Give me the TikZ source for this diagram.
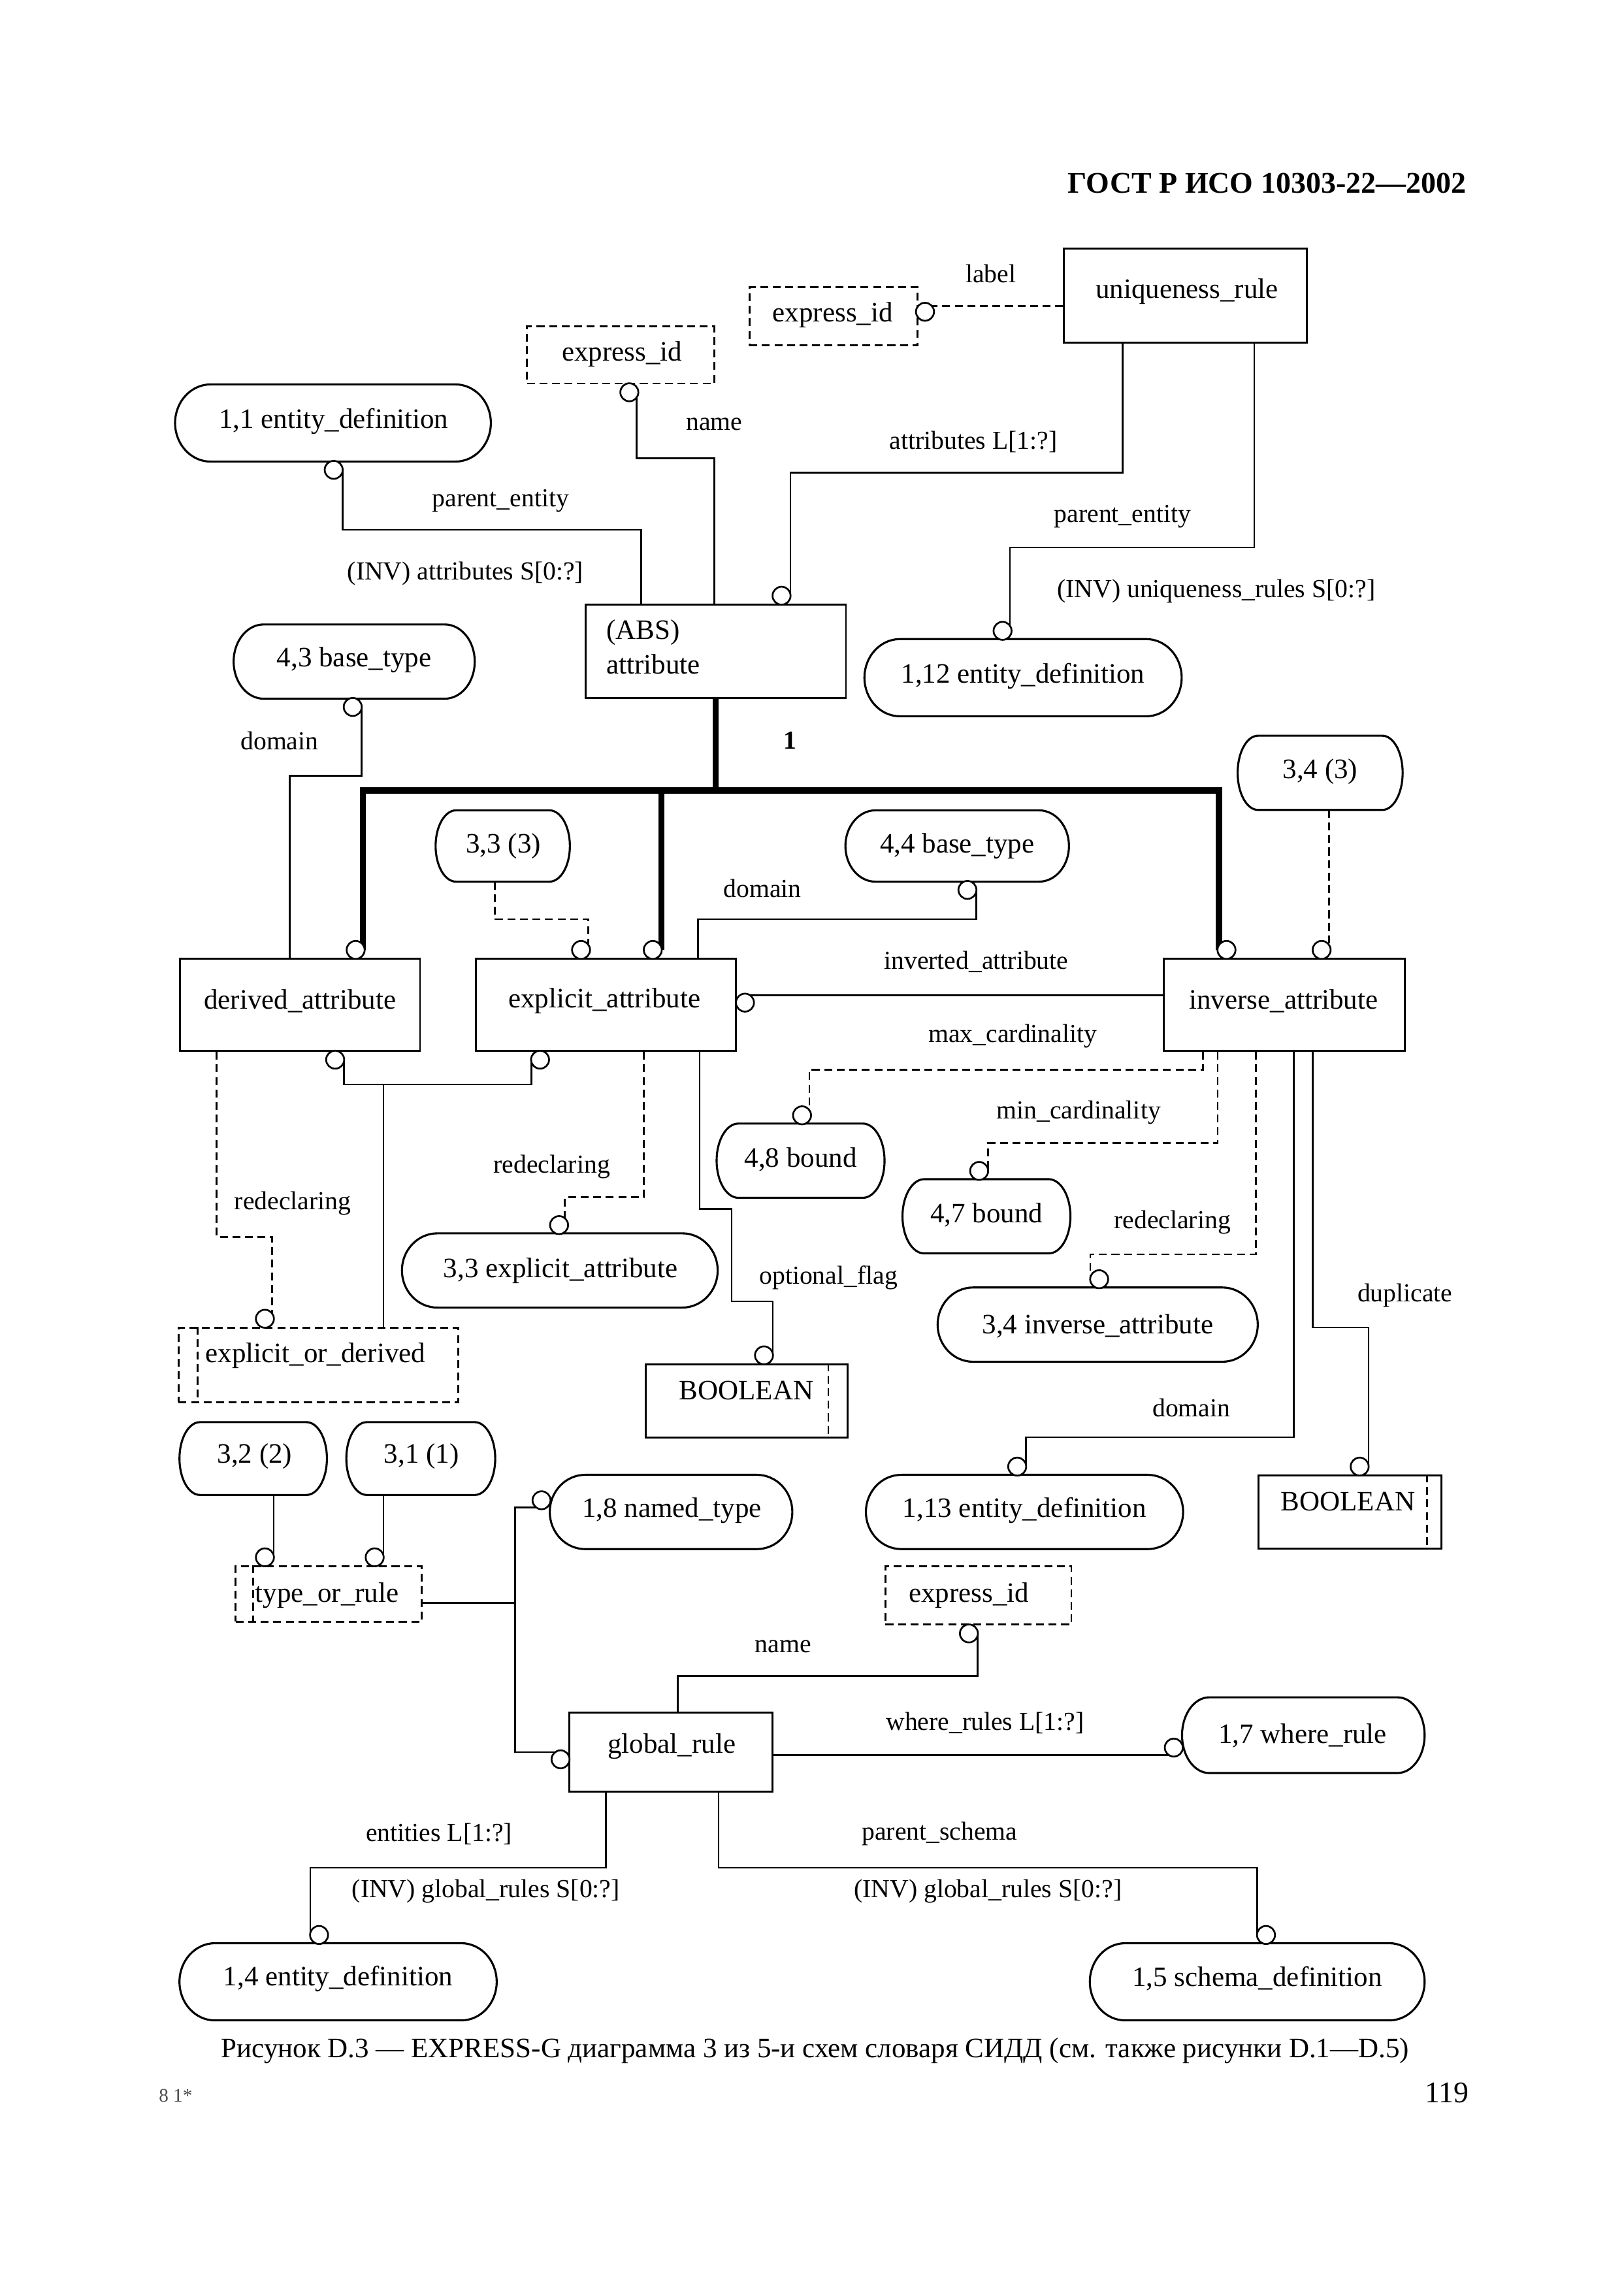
\documentclass[tikz,border=0pt]{standalone}
\usepackage{fontspec}
\setmainfont{Liberation Serif}
\usetikzlibrary{fit,calc}
\pgfdeclarelayer{fg}
\pgfsetlayers{main,fg}
\newcommand\nodefont{\fontsize{10.3}{12}\selectfont}
\newcommand\lblfont{\fontsize{9.5}{11}\selectfont}
\newcommand\ovalpath[2]{%
  \draw[line width=0.75pt] let \p1=(#1.north east), \p2=(#1.south west), \n1={0.5*(\y1-\y2)} in
  (\x2+#2,\y1) -- (\x1-#2,\y1) arc[start angle=90,end angle=-90,x radius=#2,y radius=\n1]
  -- (\x2+#2,\y2) arc[start angle=270,end angle=90,x radius=#2,y radius=\n1] -- cycle;}
\tikzset{
  box/.style={draw, line width=0.7pt, inner sep=0pt},
  dbox/.style={box, dash pattern=on 2.9pt off 1.7pt},
  shp/.style={inner sep=0pt},
  circ/.style={circle, draw, line width=0.65pt, fill=white, minimum size=6.6pt, inner sep=0pt},
  ln/.style={line width=0.6pt},
  dln/.style={line width=0.65pt, dash pattern=on 2.9pt off 1.7pt},
  thk/.style={line width=2.3pt},
  lbl/.style={font=\lblfont, inner sep=0pt},
  txt/.style={font=\nodefont, inner sep=0pt},
}
\begin{document}
\begin{tikzpicture}[x=0.5365pt,y=0.5365pt]
\useasboundingbox[fill=white] (0,0) rectangle (1109.6,-1568.0);

\node[anchor=east, font=\fontsize{11}{13}\selectfont\bfseries, inner sep=0pt] (hdr) at (1002,-125) {ГОСТ Р ИСО 10303-22—2002};

% boxes and ovals
\node[box, fit={(727,-170) (893,-234)}] (uniq) {};
\node[txt] (uniqT) at (811,-199) {uniqueness\_rule};
\node[dbox, fit={(512,-196) (627,-236)}] (exTR) {};
\node[txt] (exTRT) at (569,-215) {express\_id};
\node[dbox, fit={(360,-223) (488,-262)}] (exL) {};
\node[txt] (exLT) at (425,-242) {express\_id};
\node[shp, fit={(120,-263) (335,-315)}] (ed11) {}; \ovalpath{ed11}{13pt}
\node[txt] (ed11T) at (228,-288) {1,1 entity\_definition};
\node[box, fit={(400,-413) (578,-477)}] (attr) {};
\node[txt, anchor=west] (absT) at (414,-432) {(ABS)};
\node[txt, anchor=west] (attrT) at (414,-454) {attribute};
\node[shp, fit={(591,-437) (807,-489)}] (ed112) {}; \ovalpath{ed112}{13pt}
\node[txt] (ed112T) at (699,-462) {1,12 entity\_definition};
\node[shp, fit={(160,-427) (324,-477)}] (bt43) {}; \ovalpath{bt43}{11pt}
\node[txt] (bt43T) at (242,-451) {4,3 base\_type};
\node[shp, fit={(298,-554) (389,-602)}] (pr33) {}; \ovalpath{pr33}{7.5pt}
\node[txt] (pr33T) at (344,-578) {3,3 (3)};
\node[shp, fit={(578,-554) (730,-602)}] (bt44) {}; \ovalpath{bt44}{11pt}
\node[txt] (bt44T) at (654,-578) {4,4 base\_type};
\node[shp, fit={(846,-503) (958,-553)}] (pr34) {}; \ovalpath{pr34}{7.5pt}
\node[txt] (pr34T) at (902,-527) {3,4 (3)};
\node[box, fit={(123,-655) (287,-718)}] (der) {};
\node[txt] (derT) at (205,-684) {derived\_attribute};
\node[box, fit={(325,-655) (503,-718)}] (exp) {};
\node[txt] (expT) at (413,-684) {explicit\_attribute};
\node[box, fit={(795,-655) (960,-718)}] (inv) {};
\node[txt] (invT) at (877,-684) {inverse\_attribute};
\node[shp, fit={(490,-768) (604,-818)}] (b48) {}; \ovalpath{b48}{8pt}
\node[txt] (b48T) at (547,-792) {4,8 bound};
\node[shp, fit={(617,-806) (731,-856)}] (b47) {}; \ovalpath{b47}{8pt}
\node[txt] (b47T) at (674,-830) {4,7 bound};
\node[shp, fit={(275,-843) (490,-893)}] (ea33) {}; \ovalpath{ea33}{13pt}
\node[txt] (ea33T) at (383,-868) {3,3 explicit\_attribute};
\node[shp, fit={(641,-880) (859,-930)}] (ia34) {}; \ovalpath{ia34}{13pt}
\node[txt] (ia34T) at (750,-906) {3,4 inverse\_attribute};
\node[dbox, fit={(122,-907) (313,-958)}] (eod) {};
\draw[dln] (135,0 |- eod.north) -- (135,0 |- eod.south);
\node[txt, anchor=west] (eodT) at (140,-926) {explicit\_or\_derived};
\node[box, fit={(441,-932) (579,-982)}] (boolL) {};
\draw[dln] (566,0 |- boolL.north) -- (566,0 |- boolL.south);
\node[txt] (boolLT) at (510,-950) {BOOLEAN};
\node[shp, fit={(592,-1008) (808,-1058)}] (ed113) {}; \ovalpath{ed113}{13pt}
\node[txt] (ed113T) at (700,-1032) {1,13 entity\_definition};
\node[box, fit={(860,-1008) (985,-1058)}] (boolR) {};
\draw[dln] (975,0 |- boolR.north) -- (975,0 |- boolR.south);
\node[txt] (boolRT) at (921,-1026) {BOOLEAN};
\node[shp, fit={(123,-972) (223,-1021)}] (pr32) {}; \ovalpath{pr32}{7.5pt}
\node[txt] (pr32T) at (174,-995) {3,2 (2)};
\node[shp, fit={(237,-972) (338,-1021)}] (pr31) {}; \ovalpath{pr31}{7.5pt}
\node[txt] (pr31T) at (288,-995) {3,1 (1)};
\node[dbox, fit={(161,-1070) (288,-1108)}] (tor) {};
\draw[dln] (173,0 |- tor.north) -- (173,0 |- tor.south);
\node[txt, anchor=west] (torT) at (174,-1090) {type\_or\_rule};
\node[shp, fit={(376,-1008) (541,-1058)}] (nt18) {}; \ovalpath{nt18}{13pt}
\node[txt] (nt18T) at (459,-1032) {1,8 named\_type};
\node[dbox, fit={(605,-1070) (732,-1110)}] (exB) {};
\node[txt] (exBT) at (662,-1090) {express\_id};
\node[box, fit={(389,-1170) (528,-1224)}] (gr) {};
\node[txt] (grT) at (459,-1193) {global\_rule};
\node[shp, fit={(808,-1160) (973,-1211)}] (wr17) {}; \ovalpath{wr17}{10pt}
\node[txt] (wr17T) at (890,-1186) {1,7 where\_rule};
\node[shp, fit={(123,-1328) (339,-1380)}] (ed14) {}; \ovalpath{ed14}{13pt}
\node[txt] (ed14T) at (231,-1352) {1,4 entity\_definition};
\node[shp, fit={(745,-1328) (973,-1380)}] (sd15) {}; \ovalpath{sd15}{13pt}
\node[txt] (sd15T) at (859,-1352) {1,5 schema\_definition};

% circles
\begin{pgfonlayer}{fg}
\node[circ] (cA) at (632,-213) {};
\node[circ] (cB) at (430,-268) {};
\node[circ] (cC) at (228,-321) {};
\node[circ] (cD) at (534,-407) {};
\node[circ] (cE) at (685,-431) {};
\node[circ] (cF) at (241,-483) {};
\node[circ] (cG) at (243,-649) {};
\node[circ] (cH) at (446,-649) {};
\node[circ] (cI) at (838,-649) {};
\node[circ] (cJ) at (397,-649) {};
\node[circ] (cK) at (661,-608) {};
\node[circ] (cL) at (903,-649) {};
\node[circ] (cM) at (509,-685) {};
\node[circ] (cN) at (229,-724) {};
\node[circ] (cO) at (369,-724) {};
\node[circ] (cP) at (181,-901) {};
\node[circ] (cQ) at (382,-837) {};
\node[circ] (cR) at (522,-926) {};
\node[circ] (cS) at (548,-762) {};
\node[circ] (cT) at (669,-800) {};
\node[circ] (cU) at (751,-874) {};
\node[circ] (cV) at (695,-1002) {};
\node[circ] (cW) at (929,-1002) {};
\node[circ] (cX) at (181,-1064) {};
\node[circ] (cY) at (256,-1064) {};
\node[circ] (cZ) at (370,-1025) {};
\node[circ] (cAA) at (383,-1202) {};
\node[circ] (cAB) at (662,-1116) {};
\node[circ] (cAC) at (802,-1194) {};
\node[circ] (cAD) at (218,-1322) {};
\node[circ] (cAE) at (865,-1322) {};
\end{pgfonlayer}

% connectors
\draw[dln] (uniq.west |- 0,-209) -- ($(cA)+(0,4)$);
\draw[ln] ($(cB)+(5,0)$) |- (488,-313) -- (488,0 |- attr.north);
\draw[ln] ($(cC)+(6,0)$) |- (438,-362) -- (438,0 |- attr.north);
\draw[ln] (767,0 |- uniq.south) |- (540,-323) -- ($(cD)+(6,0)$);
\draw[ln] (857,0 |- uniq.south) |- (690,-374) -- ($(cE)+(5,0)$);
\draw[ln] ($(cF)+(6,0)$) |- (198,-530) -- (198,0 |- der.north);
\coordinate (tj) at (attr.south |- 0,-540);
\draw[thk] (attr.south) -- (tj);
\draw[thk] ($(cG)+(5,0)$) |- (tj) -| ($(cI)+(-5,0)$);
\draw[thk] ($(cH)+(6,0)$) -- (452,-540);
\draw[dln] (338,0 |- pr33.south) |- (402,-628) -- ($(cJ)+(5,0)$);
\draw[ln] ($(cK)+(6,0)$) |- (477,-628) -- (477,0 |- exp.north);
\draw[dln] (908,0 |- pr34.south) -- ($(cL)+(5,0)$);
\draw[ln] ($(cM)+(0,5)$) -- (inv.west |- 0,-680);
\draw[ln] ($(cN)+(6,0)$) |- (363,-741) -- ($(cO)+(-6,0)$);
\coordinate (jEO) at (262,-741);
\draw[ln] (jEO) -- (jEO |- eod.north);
\draw[dln] (148,0 |- der.south) |- (186,-845) -- ($(cP)+(5,0)$);
\draw[dln] (440,0 |- exp.south) |- (386,-818) -- ($(cQ)+(4,0)$);
\draw[ln] (478,0 |- exp.south) |- (500,-826) |- (528,-889) -- ($(cR)+(6,0)$);
\draw[dln] (822,0 |- inv.south) |- (553,-731) -- ($(cS)+(5,0)$);
\draw[dln] (832,0 |- inv.south) |- (675,-781) -- ($(cT)+(6,0)$);
\draw[dln] (858,0 |- inv.south) |- (745,-857) -- ($(cU)+(-6,0)$);
\draw[ln] (884,0 |- inv.south) |- (701,-982) -- ($(cV)+(6,0)$);
\draw[ln] (897,0 |- inv.south) |- (935,-907) -- ($(cW)+(6,0)$);
\draw[ln] (187,0 |- pr32.south) -- ($(cX)+(6,0)$);
\draw[ln] (262,0 |- pr31.south) -- ($(cY)+(6,0)$);
\draw[ln] ($(cZ)+(0,-5)$) -| (352,-1197) -- ($(cAA)+(0,5)$);
\draw[ln] (tor.east |- 0,-1095) -- (352,-1095);
\draw[ln] ($(cAB)+(6,0)$) |- (463,-1145) -- (463,0 |- gr.north);
\draw[ln] (gr.east |- 0,-1199) -- ($(cAC)+(0,-5)$);
\draw[ln] (414,0 |- gr.south) |- (212,-1276) -- ($(cAD)+(-6,0)$);
\draw[ln] (491,0 |- gr.south) |- (859,-1276) -- ($(cAE)+(-6,0)$);

% labels
\node[lbl] (lLabel) at (677,-187) {label};
\node[lbl] (lName1) at (488,-290) {name};
\node[lbl] (lPe1) at (342,-342) {parent\_entity};
\node[lbl] (lInv1) at (318,-392) {(INV) attributes S[0:?]};
\node[lbl] (lAttrL) at (665,-302) {attributes L[1:?]};
\node[lbl] (lPe2) at (767,-353) {parent\_entity};
\node[lbl] (lInv2) at (831,-404) {(INV) uniqueness\_rules S[0:?]};
\node[lbl] (lDom1) at (191,-506) {domain};
\node[lbl, font=\lblfont\bfseries] (lOne) at (540,-506) {1};
\node[lbl] (lDom2) at (521,-607) {domain};
\node[lbl] (lInvA) at (667,-657) {inverted\_attribute};
\node[lbl] (lMax) at (692,-708) {max\_cardinality};
\node[lbl] (lMin) at (737,-760) {min\_cardinality};
\node[lbl] (lRed1) at (377,-797) {redeclaring};
\node[lbl] (lRed2) at (200,-822) {redeclaring};
\node[lbl] (lRed3) at (801,-835) {redeclaring};
\node[lbl] (lOpt) at (566,-873) {optional\_flag};
\node[lbl] (lDup) at (960,-885) {duplicate};
\node[lbl] (lDom3) at (814,-962) {domain};
\node[lbl] (lName2) at (535,-1125) {name};
\node[lbl] (lWhere) at (673,-1177) {where\_rules L[1:?]};
\node[lbl] (lEnt) at (300,-1253) {entities L[1:?]};
\node[lbl] (lPs) at (642,-1253) {parent\_schema};
\node[lbl] (lGr1) at (332,-1292) {(INV) global\_rules S[0:?]};
\node[lbl] (lGr2) at (675,-1292) {(INV) global\_rules S[0:?]};

% caption and page marks
\node[font=\fontsize{10.3}{12}\selectfont, inner sep=0pt] (cap) at (557,-1401) {Рисунок D.3 — EXPRESS-G диаграмма 3 из 5-и схем словаря СИДД (см. также рисунки D.1—D.5)};
\node[anchor=east, font=\fontsize{11}{13}\selectfont, inner sep=0pt] (pg) at (1004,-1430) {119};
\node[font=\fontsize{7}{8}\selectfont, text=black!70, inner sep=0pt] (sig) at (120,-1432) {8 1*};
\end{tikzpicture}
\end{document}
